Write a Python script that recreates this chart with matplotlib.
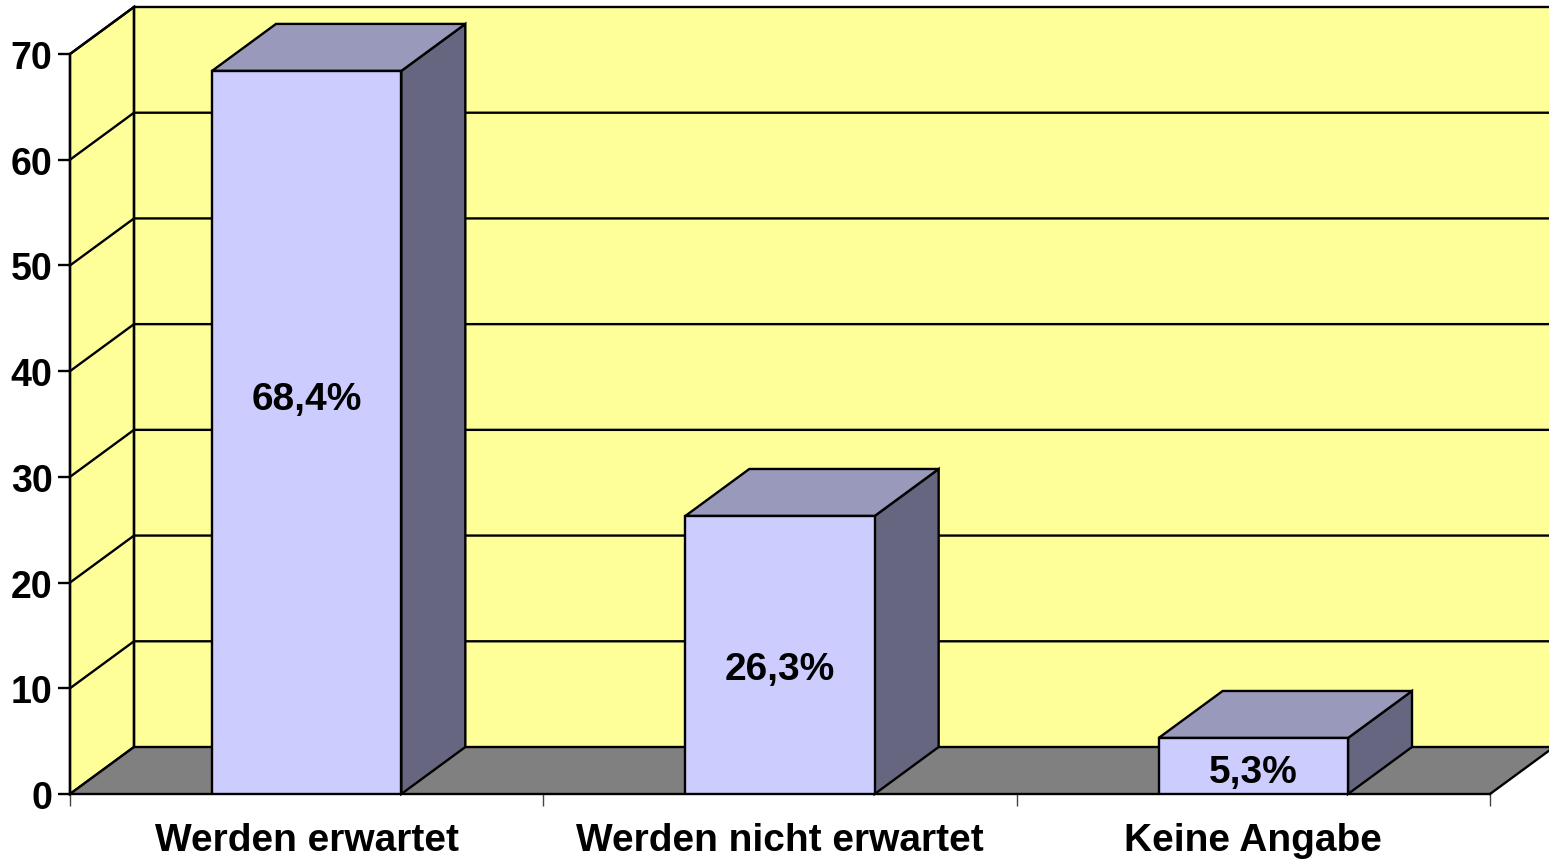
import matplotlib.pyplot as plt
from matplotlib.patches import Polygon
import numpy as np

plt.rcParams['font.family'] = ['Liberation Sans', 'DejaVu Sans']

categories = ['Werden erwartet', 'Werden nicht erwartet', 'Keine Angabe']
values = [68.4, 26.3, 5.3]
value_labels = ['68,4%', '26,3%', '5,3%']
y_ticks = [0, 10, 20, 30, 40, 50, 60, 70]
label_y = [37.4, 11.8, 2.1]  # where the percent labels sit

wall_color = '#FFFF99'
floor_color = '#808080'
front_color = '#CCCCFF'
top_color = '#9999BB'
side_color = '#666680'
lw = 1.7
fs = 28

fig = plt.figure(figsize=(15.49, 8.62), dpi=100)
ax = fig.add_axes([70 / 1549, 67 / 862, 1420 / 1549, 740 / 862])
ax.set_xlim(-0.5, 2.5)
ax.set_ylim(0, 70)

# depth offset of the 3d look, in data units
dx = 64 / (1420 / 3)
dy = 47 / (740 / 70)
x0, x1 = -0.5, 2.5
ytop = 70

# walls and floor
back = Polygon([(x0 + dx, dy), (x1 + dx + 1, dy), (x1 + dx + 1, ytop + dy), (x0 + dx, ytop + dy)],
               closed=True, facecolor=wall_color, edgecolor='none', clip_on=False, zorder=0)
side = Polygon([(x0, 0), (x0 + dx, dy), (x0 + dx, ytop + dy), (x0, ytop)],
               closed=True, facecolor=wall_color, edgecolor='black', lw=lw, clip_on=False, zorder=1)
floor = Polygon([(x0, 0), (x1, 0), (x1 + dx, dy), (x0 + dx, dy)],
                closed=True, facecolor=floor_color, edgecolor='none', clip_on=False, zorder=1)
ax.add_patch(back)
ax.add_patch(side)
ax.add_patch(floor)
ax.plot([x1, x1 + dx], [0, dy], color='black', lw=lw, clip_on=False, zorder=2)

# gridlines over left and back walls
for v in y_ticks:
    ax.plot([x0, x0 + dx, x1 + dx + 1], [v, v + dy, v + dy], color='black', lw=lw,
            clip_on=False, zorder=2, solid_joinstyle='miter')
ax.plot([x0 + dx, x0 + dx], [dy, ytop + dy], color='black', lw=lw, clip_on=False, zorder=2)

# bars
x = np.arange(len(categories))
w = 0.4
ax.bar(x, values, width=w, color=front_color, edgecolor='black', linewidth=lw, zorder=5)
for xi, v in zip(x, values):
    r = xi + w / 2
    l = xi - w / 2
    ax.add_patch(Polygon([(r, 0), (r + dx, dy), (r + dx, v + dy), (r, v)], closed=True,
                         facecolor=side_color, edgecolor='black', lw=lw, zorder=4, clip_on=False))
    ax.add_patch(Polygon([(l, v), (l + dx, v + dy), (r + dx, v + dy), (r, v)], closed=True,
                         facecolor=top_color, edgecolor='black', lw=lw, zorder=4, clip_on=False,
                         joinstyle='miter'))

for xi, yl, t in zip(x, label_y, value_labels):
    ax.text(xi, yl, t, ha='center', va='center', fontsize=fs, fontweight='bold', zorder=6)

# axes
ax.set_facecolor('none')
for s in ['top', 'right']:
    ax.spines[s].set_visible(False)
for s in ['left', 'bottom']:
    ax.spines[s].set_linewidth(lw)
    ax.spines[s].set_zorder(3)

ax.set_yticks(y_ticks)
ax.set_yticklabels([str(v) for v in y_ticks])
ax.tick_params(axis='y', length=8.6, width=lw, pad=4, labelsize=27)
for lab in ax.get_yticklabels():
    lab.set_fontweight('bold')

ax.set_xticks(x)
ax.set_xticklabels(categories)
ax.set_xticks([-0.5, 0.5, 1.5, 2.5], minor=True)
ax.tick_params(axis='x', which='major', length=0, pad=20, labelsize=fs)
ax.tick_params(axis='x', which='minor', length=8.6, width=1.0, color='#444444')
for lab in ax.get_xticklabels():
    lab.set_fontweight('bold')

fig.savefig('out.png', dpi=100)
